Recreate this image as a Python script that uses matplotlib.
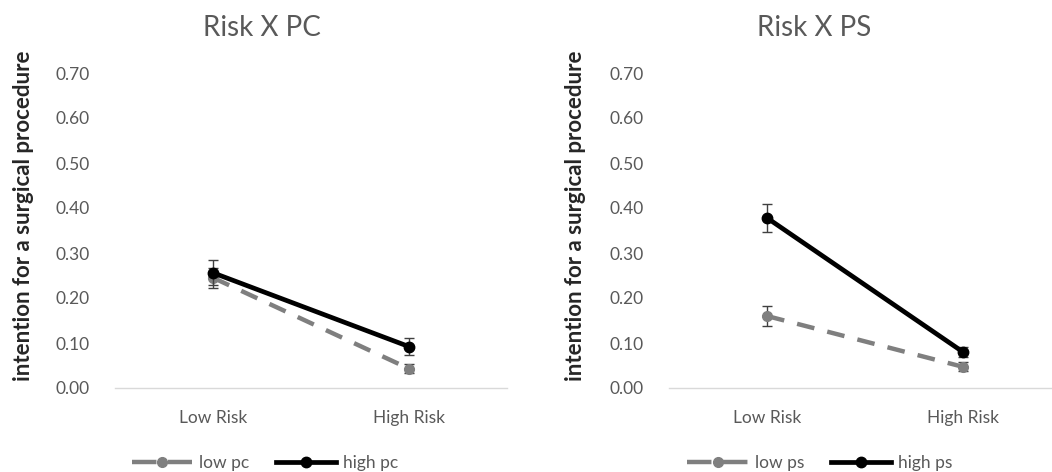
import numpy as np
import matplotlib
matplotlib.use("Agg")
from matplotlib import pyplot as plt
from matplotlib.lines import Line2D

plt.rcParams['font.family'] = ['Lato', 'DejaVu Sans']

categories = ["Low Risk", "High Risk"]
yticks = [0.0, 0.1, 0.2, 0.3, 0.4, 0.5, 0.6, 0.7]

# panel 1: Risk X PC
pc_low = [0.245, 0.043]
pc_low_err = [0.022, 0.010]
pc_high = [0.256, 0.092]
pc_high_err = [0.028, 0.019]

# panel 2: Risk X PS
ps_low = [0.160, 0.047]
ps_low_err = [0.022, 0.010]
ps_high = [0.378, 0.080]
ps_high_err = [0.031, 0.012]

panels = [
    ("Risk X PC", "low pc", "high pc", pc_low, pc_low_err, pc_high, pc_high_err),
    ("Risk X PS", "low ps", "high ps", ps_low, ps_low_err, ps_high, ps_high_err),
]

W, H = 1052, 472
fig = plt.figure(figsize=(W / 100, H / 100), dpi=100)

ax_left_px = [115, 669]
ylabel_x = [-0.207, -0.212]
title_x_px = [262, 814]
legend_x_px = [265, 820]

gray_txt = "#595959"
line_gray = "#7f7f7f"

for i, (title, lab_lo, lab_hi, lo, lo_err, hi, hi_err) in enumerate(panels):
    ax = fig.add_axes([ax_left_px[i] / W, (H - 388) / H, 392 / W, 315 / H])
    x = np.arange(len(categories))

    ax.errorbar(x, lo, yerr=lo_err, color=line_gray, lw=3.2, dashes=(4, 3),
                marker="o", ms=7, ecolor="#404040", elinewidth=1.0, capsize=3.5,
                capthick=1.0, zorder=3)
    ax.errorbar(x, hi, yerr=hi_err, color="black", lw=3.4, marker="o", ms=7.5,
                ecolor="#404040", elinewidth=1.0, capsize=3.5, capthick=1.0,
                zorder=4)

    ax.set_xlim(-0.5, 1.5)
    ax.set_ylim(0, 0.7)
    ax.set_yticks(yticks)
    ax.set_yticklabels(["%.2f" % v for v in yticks])
    ax.set_xticks(x)
    ax.set_xticklabels(categories)
    ax.tick_params(axis="both", length=0, labelsize=12.5, colors=gray_txt)
    ax.tick_params(axis="y", pad=18)
    ax.tick_params(axis="x", pad=16)
    for side in ["left", "right", "top"]:
        ax.spines[side].set_visible(False)
    ax.spines["bottom"].set_color("#d9d9d9")
    ax.spines["bottom"].set_linewidth(1.0)

    ax.set_ylabel("intention for a surgical procedure", fontsize=16,
                  fontweight="bold", color="#262626")
    ax.yaxis.set_label_coords(ylabel_x[i], 0.546)

    fig.text(title_x_px[i] / W, 1 - 28 / H, title, fontsize=20, color=gray_txt,
             ha="center", va="center")

    handles = [
        Line2D([], [], color=line_gray, lw=3.2, dashes=(5.5, 2.6), marker="o", ms=7),
        Line2D([], [], color="black", lw=3.4, marker="o", ms=7.5),
    ]
    leg = fig.legend(handles=handles, labels=[lab_lo, lab_hi], loc="center",
                     bbox_to_anchor=(legend_x_px[i] / W, 1 - 463 / H), ncol=2,
                     frameon=False, fontsize=12.5, handlelength=3.5,
                     columnspacing=1.5, handletextpad=0.4)
    for t in leg.get_texts():
        t.set_color(gray_txt)

fig.savefig("out.png", dpi=100)
